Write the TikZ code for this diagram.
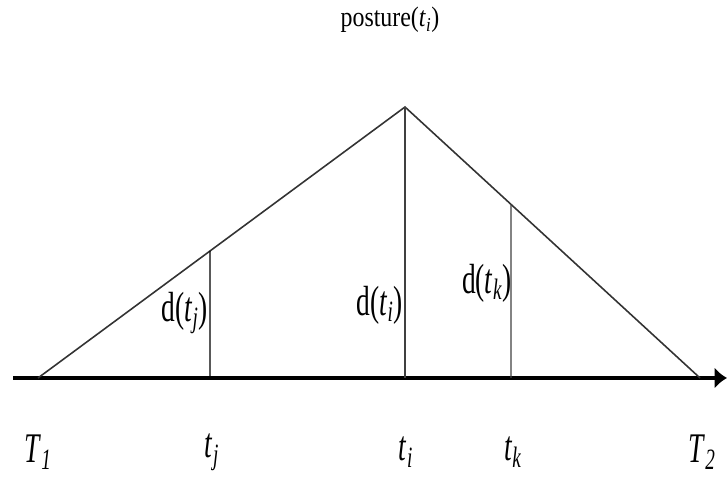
\documentclass[tikz,border=0pt]{standalone}
\usepackage{fontspec}
\setmainfont{Liberation Serif}
\usetikzlibrary{arrows.meta,calc}

% italic variable with italic subscript, squeezed like the figure
\newcommand\vr[2]{\textit{#1}\textsubscript{\textit{#2}}}
\newcommand\sq[1]{\scalebox{0.65}[1]{#1}}

\begin{document}
\begin{tikzpicture}[
    x=0.02cm, y=-0.02cm,
    axis/.style={line width=2.6pt, -{Latex[length=7pt,width=12pt]}},
    edge/.style={line width=0.9pt, black!80},
    dline/.style={line width=0.8pt, black!75},
    tlbl/.style={font=\fontsize{24}{26}\selectfont, inner sep=0pt},
    dlbl/.style={font=\fontsize{24}{26}\selectfont, inner sep=0pt, anchor=east},
]
\useasboundingbox (0,0) rectangle (727,492);

% corners of the triangle
\coordinate (lv) at (38,378);
\coordinate (top) at (405,107);
\coordinate (rv) at (700,378);
\coordinate (ax0) at (13,378);
\coordinate (ax1) at (727,378);

% foot points on the axis
\coordinate (fj) at (210,378);
\coordinate (fi) at (405,378);
\coordinate (fk) at (511,378);

% tops of the verticals, on the sides
\coordinate (pj) at ($(lv)!{(210-38)/(405-38)}!(top)$);
\coordinate (pk) at ($(top)!{(511-405)/(700-405)}!(rv)$);

\draw[axis] (ax0) -- (ax1);
\draw[edge] (lv) -- (top) -- (rv);
\draw[dline, black] (fj) -- (pj);
\draw[dline] (fi) -- (top);
\draw[dline] (fk) -- (pk);

\node[font=\fontsize{16}{18}\selectfont, inner sep=0pt] (post) at (390,20)
    {\scalebox{0.85}[1]{posture(\vr{t}{i})}};

\node[dlbl] (dj) at (208,313) {\sq{d(\vr{t}{j})}};
\node[dlbl] (di) at (403,305) {\sq{d(\vr{t}{i})}};
\node[dlbl] (dk) at (512,283) {\sq{d(\vr{t}{k})}};

\node[tlbl] (T1) at (38,452) {\sq{\vr{T}{1}}};
\node[tlbl] (tj) at (212,452) {\sq{\vr{t}{j}}};
\node[tlbl] (ti) at (406,452) {\sq{\vr{t}{i}}};
\node[tlbl] (tk) at (513,452) {\sq{\vr{t}{k}}};
\node[tlbl] (T2) at (702,452) {\sq{\vr{T}{2}}};
\end{tikzpicture}
\end{document}
